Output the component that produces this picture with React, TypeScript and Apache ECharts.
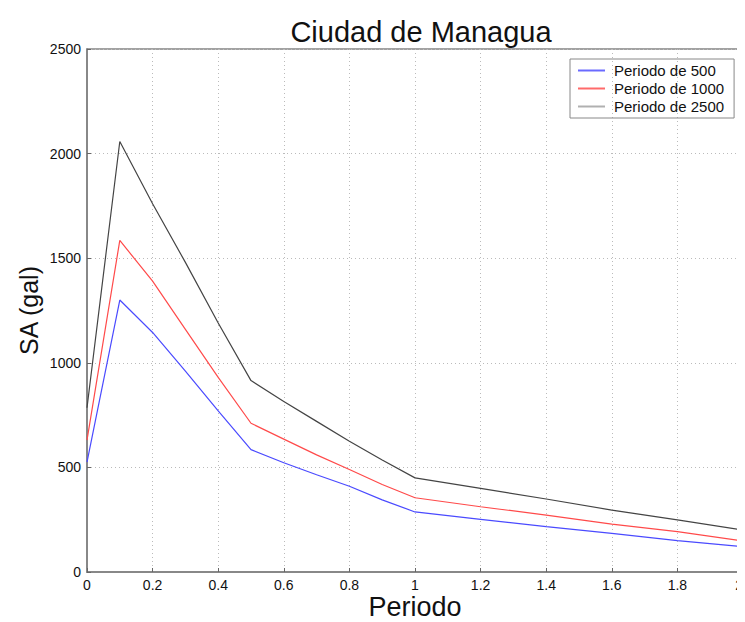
import React, { useEffect, useRef } from "react";
import * as echarts from "echarts";

const periods = [0, 0.1, 0.2, 0.3, 0.4, 0.5, 0.6, 0.7, 0.8, 0.9, 1.0, 1.2, 1.4, 1.6, 1.8, 2.0];
const sa500 = [525, 1300, 1145, 960, 770, 585, 522, 465, 410, 345, 287, 252, 217, 185, 150, 121];
const sa1000 = [630, 1585, 1390, 1160, 930, 711, 635, 560, 490, 418, 355, 312, 272, 229, 193, 148];
const sa2500 = [785, 2058, 1760, 1480, 1190, 915, 815, 720, 625, 535, 450, 400, 349, 296, 249, 200];
const seriesNames = ["Periodo de 500", "Periodo de 1000", "Periodo de 2500"];
const seriesColors = ["#4a4aff", "#ff4a4a", "#444444"];
const legendColors = ["#6a6aff", "#ff6a6a", "#b0b0b0"];

const toPairs = (ys: number[]) => periods.map((p, i) => [p, ys[i]]);

export default function App() {
  const ref = useRef<HTMLDivElement>(null);
  useEffect(() => {
    if (!ref.current) return;
    const chart = echarts.init(ref.current, undefined, { renderer: "svg" });
    const font = "'Liberation Sans', Arial, sans-serif";
    const all = [sa500, sa1000, sa2500];
    chart.setOption({
      animation: false,
      backgroundColor: "#fff",
      title: {
        text: "Ciudad de Managua",
        left: 416,
        textAlign: "center",
        top: 12,
        textStyle: { fontFamily: font, fontSize: 29, fontWeight: "normal", color: "#111" },
      },
      legend: {
        data: seriesNames.map((n, i) => ({ name: n, itemStyle: { color: legendColors[i] } })),
        orient: "vertical",
        left: 570,
        top: 59,
        borderColor: "#888",
        borderWidth: 1,
        padding: [4, 10, 4, 8],
        itemGap: 3,
        itemWidth: 27,
        itemHeight: 2,
        icon: "rect",
        textStyle: { fontFamily: font, fontSize: 15, color: "#111", padding: [0, 0, 0, 4] },
      },
      grid: {
        left: 87,
        right: 2,
        top: 49,
        bottom: 50,
        show: true,
        borderColor: "#444",
        borderWidth: 1,
        outerBoundsMode: "none",
        containLabel: false,
      },
      xAxis: {
        type: "value",
        min: 0,
        max: 2,
        interval: 0.2,
        name: "Periodo",
        nameLocation: "middle",
        nameGap: 23,
        nameMoveOverlap: false,
        nameTextStyle: { fontFamily: font, fontSize: 27, lineHeight: 24, color: "#111", verticalAlign: "top" },
        axisLine: { show: true, lineStyle: { color: "#888", width: 2 } },
        axisTick: { show: true, inside: true, length: 4, lineStyle: { color: "#666" } },
        axisLabel: { fontFamily: font, fontSize: 14, color: "#111", margin: 6, alignMaxLabel: "right" },
        splitLine: { show: true, lineStyle: { color: "#bbb", type: [1, 3], width: 1 } },
      },
      yAxis: {
        type: "value",
        min: 0,
        max: 2500,
        interval: 500,
        name: "SA (gal)",
        nameLocation: "middle",
        nameGap: 46,
        nameMoveOverlap: false,
        nameTextStyle: { fontFamily: font, fontSize: 25, color: "#111" },
        axisLine: { show: true, lineStyle: { color: "#888", width: 2 } },
        axisTick: { show: true, inside: true, length: 4, lineStyle: { color: "#666" } },
        axisLabel: { fontFamily: font, fontSize: 14, color: "#111", margin: 6, formatter: (v: number) => String(v) },
        splitLine: { show: true, lineStyle: { color: "#bbb", type: [1, 3], width: 1 } },
      },
      series: all.map((ys, i) => ({
        name: seriesNames[i],
        type: "line",
        data: toPairs(ys),
        symbol: "none",
        showSymbol: false,
        lineStyle: { color: seriesColors[i], width: 1.2 },
        itemStyle: { color: seriesColors[i] },
        z: 3 - i,
      })),
    });
    return () => chart.dispose();
  }, []);
  return <div ref={ref} style={{ width: 745, height: 622, marginLeft: -8, marginTop: -8 }} />;
}
